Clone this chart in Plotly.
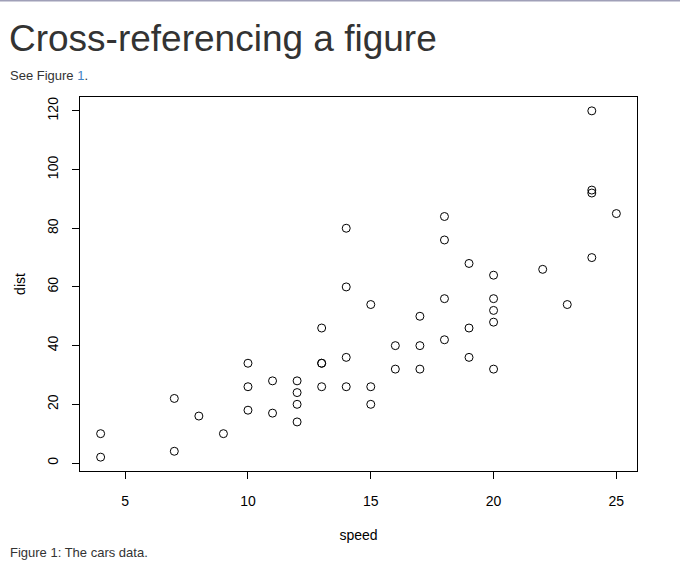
import plotly.graph_objects as go

# cars data (speed in mph, stopping distance in ft)
speed = [4, 4, 7, 7, 8, 9, 10, 10, 10, 11, 11, 12, 12, 12, 12, 13, 13, 13, 13,
         14, 14, 14, 14, 15, 15, 15, 16, 16, 17, 17, 17, 18, 18, 18, 18, 19, 19,
         19, 20, 20, 20, 20, 20, 22, 23, 24, 24, 24, 24, 25]
dist = [2, 10, 4, 22, 16, 10, 18, 26, 34, 17, 28, 14, 20, 24, 28, 26, 34, 34, 46,
        26, 36, 60, 80, 20, 26, 54, 32, 40, 32, 40, 50, 42, 56, 76, 84, 36, 46,
        68, 32, 48, 52, 56, 64, 66, 54, 70, 92, 93, 120, 85]
x_ticks = [5, 10, 15, 20, 25]
y_ticks = [0, 20, 40, 60, 80, 100, 120]

W, H = 680, 579
L, R, T, B = 80, 43, 97, 108
pw, ph = W - L - R, H - T - B

def px(x):
    return (x - L) / pw

def py(y):
    return 1 - (y - T) / ph

font = "Liberation Sans, Arial, Helvetica, sans-serif"

# R style range: data range padded by 4%
xr = [min(speed) - 0.04 * (max(speed) - min(speed)), max(speed) + 0.04 * (max(speed) - min(speed))]
yr = [min(dist) - 0.04 * (max(dist) - min(dist)), max(dist) + 0.04 * (max(dist) - min(dist))]

fig = go.Figure()
fig.add_trace(go.Scatter(
    x=speed, y=dist, mode="markers",
    marker=dict(symbol="circle-open", size=8, color="black", line=dict(width=1, color="black")),
    showlegend=False, hoverinfo="x+y"
))

axis_common = dict(showgrid=False, zeroline=False, showline=True, mirror=True,
                   linecolor="black", linewidth=1, ticks="outside", ticklen=7,
                   tickcolor="black", tickwidth=1,
                   tickfont=dict(family=font, size=14, color="black"))

fig.update_xaxes(range=xr, tickvals=x_ticks, ticktext=[str(v) for v in x_ticks],
                 ticklabelstandoff=10,
                 title=dict(text="speed", font=dict(family=font, size=14, color="black"), standoff=22),
                 **axis_common)
fig.update_yaxes(range=yr, tickvals=y_ticks, ticktext=[str(v) for v in y_ticks], tickangle=-90,
                 ticklabelstandoff=8,
                 title=dict(text="dist", font=dict(family=font, size=14, color="black"), standoff=16),
                 **axis_common)

fig.add_annotation(text="Cross-referencing a figure", x=px(7), y=py(38), xref="paper", yref="paper",
                   xanchor="left", yanchor="middle", showarrow=False,
                   font=dict(family=font, size=37, color="#333333"))
fig.add_annotation(text="See Figure <span style='color:#4183c4'>1</span>.", x=px(8), y=py(75),
                   xref="paper", yref="paper", xanchor="left", yanchor="middle", showarrow=False,
                   font=dict(family=font, size=13, color="#333333"))
fig.add_annotation(text="Figure 1: The cars data.", x=px(8), y=py(552), xref="paper", yref="paper",
                   xanchor="left", yanchor="middle", showarrow=False,
                   font=dict(family=font, size=13, color="#333333"))

# thin rule at the very top of the page
fig.add_shape(type="line", xref="paper", yref="paper", x0=px(0), x1=px(W), y0=py(0.75), y1=py(0.75),
              line=dict(color="#a0a0b8", width=1.5))

fig.update_layout(width=W, height=H, margin=dict(l=L, r=R, t=T, b=B),
                  paper_bgcolor="white", plot_bgcolor="white")

# drop the browser's default body margin so the figure sits at the page corner
fig.write_html("out.html", config={"displayModeBar": False},
               post_script="document.body.style.margin='0';")
